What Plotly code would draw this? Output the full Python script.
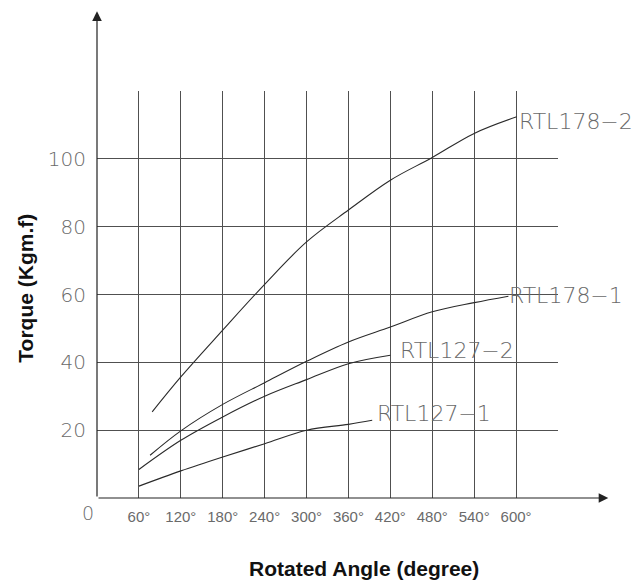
import plotly.graph_objects as go

# ---- data ----
angle_178_2 = [79, 120, 180, 240, 300, 360, 420, 480, 540, 601]
torque_178_2 = [25.4, 35.7, 49.5, 63.0, 75.5, 84.9, 93.7, 100.4, 107.5, 112.4]

angle_178_1 = [76, 120, 180, 240, 300, 360, 420, 480, 540, 589]
torque_178_1 = [12.6, 19.8, 27.6, 34.0, 40.3, 46.0, 50.4, 54.9, 57.6, 59.5]

angle_127_2 = [60, 120, 180, 240, 300, 360, 420]
torque_127_2 = [8.4, 17.0, 23.9, 30.0, 34.9, 39.6, 42.1]

angle_127_1 = [60, 120, 180, 240, 300, 360, 394]
torque_127_1 = [3.5, 8.0, 12.1, 16.0, 20.0, 21.7, 22.9]

series_names = ["RTL178\u22122", "RTL178\u22121", "RTL127\u22122", "RTL127\u22121"]
series_x = [angle_178_2, angle_178_1, angle_127_2, angle_127_1]
series_y = [torque_178_2, torque_178_1, torque_127_2, torque_127_1]
label_xshift = [0, -1, 8, 3]
label_yshift = [-5, 1, 5, 7]

x_ticks = [60, 120, 180, 240, 300, 360, 420, 480, 540, 600, 660]
x_ticktext = ["60°", "120°", "180°", "240°", "300°", "360°", "420°", "480°", "540°", "600°", ""]
y_ticks = [20, 40, 60, 80, 100]
y_ticktext = ["20", "40", "60", "80", "100"]

x_max_grid = 660
y_max_grid = 120
x_arrow_end = 732
y_arrow_end = 143.5

LINE_COLOR = "#2a2a2a"
GRID_COLOR = "#505050"
TEXT_GREY = "#6a6a6a"

fig = go.Figure()

for name, xs, ys, dx, dy in zip(series_names, series_x, series_y, label_xshift, label_yshift):
    fig.add_trace(go.Scatter(
        x=xs, y=ys, mode="lines", name=name,
        line=dict(color=LINE_COLOR, width=1.1, shape="spline", smoothing=1.0),
        showlegend=False, hoverinfo="x+y+name",
    ))
    fig.add_annotation(
        x=xs[-1], y=ys[-1], text=name, showarrow=False,
        xanchor="left", yanchor="middle", xshift=dx, yshift=dy,
        font=dict(family="DejaVu Sans", size=22, color=TEXT_GREY, weight=200),
    )

# axis arrows
fig.add_annotation(x=0, y=y_arrow_end, ax=0, ay=0, axref="x", ayref="y",
                   xref="x", yref="y", text="", showarrow=True,
                   arrowhead=2, arrowsize=1.6, arrowwidth=1.2, arrowcolor="#222", standoff=0)
fig.add_annotation(x=x_arrow_end, y=0, ax=0, ay=0, axref="x", ayref="y",
                   xref="x", yref="y", text="", showarrow=True,
                   arrowhead=2, arrowsize=1.6, arrowwidth=1.2, arrowcolor="#222", standoff=0)

# origin label
fig.add_annotation(x=0, y=0, text="0", showarrow=False, xanchor="right", yanchor="top",
                   xshift=-1, yshift=-2,
                   font=dict(family="DejaVu Sans", size=19, color=TEXT_GREY, weight=200))

# axis titles
fig.add_annotation(x=0.58, y=-0.1727, xref="paper", yref="paper", text="<b>Rotated Angle (degree)</b>",
                   showarrow=False, xanchor="center", yanchor="middle",
                   font=dict(family="Liberation Sans", size=21, color="#111"))
fig.add_annotation(x=-0.1555, y=0.515, xref="paper", yref="paper", text="<b>Torque (Kgm.f)</b>",
                   showarrow=False, textangle=-90, xanchor="center", yanchor="middle",
                   font=dict(family="Liberation Sans", size=21, color="#111"))

# the page body adds an 8px offset, so the figure is 8px smaller and margins compensate
fig.update_layout(
    width=634, height=576,
    margin=dict(l=88.7, r=84.3, t=82.7, b=86.3),
    paper_bgcolor="white", plot_bgcolor="white",
    xaxis=dict(range=[0, x_max_grid], tickvals=x_ticks, ticktext=x_ticktext,
               showgrid=True, gridcolor=GRID_COLOR, gridwidth=1,
               zeroline=False, showline=False, ticks="outside", ticklen=5, tickcolor="rgba(0,0,0,0)",
               tickfont=dict(family="Liberation Sans", size=15, color=TEXT_GREY)),
    yaxis=dict(range=[0, y_max_grid], tickvals=y_ticks, ticktext=y_ticktext,
               showgrid=True, gridcolor=GRID_COLOR, gridwidth=1,
               zeroline=False, showline=False, ticks="outside", ticklen=6, tickcolor="rgba(0,0,0,0)",
               tickfont=dict(family="DejaVu Sans", size=20, color=TEXT_GREY, weight=200)),
)

fig.write_html("out.html")
